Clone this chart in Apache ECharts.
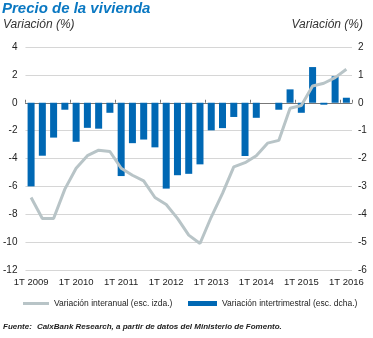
<!DOCTYPE html>
<html><head><meta charset="utf-8">
<script src="https://cdn.jsdelivr.net/npm/echarts@6/dist/echarts.min.js"></script>
<style>html,body{margin:0;padding:0;background:#fff}#c{width:373px;height:338px}</style>
</head><body><div id="c"></div>
<script>
const years = ['2009','2010','2011','2012','2013','2014','2015','2016'];
const categories = [];
years.forEach(y => { ['1T','2T','3T','4T'].forEach(q => { if (!(y === '2016' && q !== '1T')) categories.push(q + ' ' + y); }); });
// Variación interanual (esc. izda.)
const interanual = [-6.8,-8.3,-8.3,-6.2,-4.7,-3.8,-3.4,-3.5,-4.7,-5.2,-5.6,-6.8,-7.3,-8.3,-9.5,-10.1,-8.2,-6.5,-4.6,-4.3,-3.8,-2.9,-2.7,-0.4,-0.2,1.2,1.4,1.8,2.4];
// Variación intertrimestral (esc. dcha.)
const intertrimestral = [-3.0,-1.9,-1.25,-0.25,-1.4,-0.9,-0.93,-0.36,-2.63,-1.45,-1.32,-1.6,-3.08,-2.6,-2.55,-2.21,-0.99,-0.91,-0.51,-1.91,-0.54,0.0,-0.25,0.48,-0.36,1.28,-0.07,0.95,0.18];
const leftTicks = {min:-12, max:4, interval:2};
const rightTicks = {min:-6, max:2, interval:1};

const FONT = "'Liberation Sans',Arial,sans-serif";
const chart = echarts.init(document.getElementById('c'), null, {renderer:'canvas'});
chart.setOption({
  animation:false,
  textStyle:{fontFamily:FONT},
  title:[
    {text:'Precio de la vivienda', left:2, top:1, padding:0,
     textStyle:{fontFamily:FONT, fontSize:15, fontWeight:'bold', fontStyle:'italic', color:'#0a78c2'}},
    {text:'Variación (%)', left:3, top:19, padding:0,
     textStyle:{fontFamily:FONT, fontSize:12, fontWeight:'normal', fontStyle:'italic', color:'#333'}},
    {text:'Variación (%)', right:10, top:19, padding:0,
     textStyle:{fontFamily:FONT, fontSize:12, fontWeight:'normal', fontStyle:'italic', color:'#333'}},
    {text:'{b|Fuente:} {n|CaixBank Research, a partir de datos del Ministerio de Fomento.}', left:3, top:318, padding:0,
     textStyle:{rich:{b:{fontFamily:FONT,fontSize:8,fontWeight:'bold',fontStyle:'italic',color:'#222'},
                      n:{fontFamily:FONT,fontSize:8,fontStyle:'italic',color:'#222'}}}}
  ],
  legend:[
    {data:['Variación interanual (esc. izda.)'], left:23, top:299, padding:0, itemWidth:26, itemHeight:3, icon:'rect',
     itemGap:4, textStyle:{fontFamily:FONT, fontSize:8.5, color:'#222'}},
    {data:['Variación intertrimestral (esc. dcha.)'], left:188, top:299, padding:0, itemWidth:29, itemHeight:5, icon:'rect',
     textStyle:{fontFamily:FONT, fontSize:8.5, color:'#222'}}
  ],
  grid:{left:23, right:21, top:47, bottom:68},
  xAxis:[
    {type:'category', data:categories, position:'bottom', boundaryGap:true,
     axisLine:{show:false}, axisTick:{show:false},
     axisLabel:{interval:3, color:'#222', fontSize:9.5, margin:7, fontFamily:FONT}},
    {type:'category', data:categories, position:'bottom', boundaryGap:true,
     axisLine:{show:true, onZero:true, lineStyle:{color:'#777', width:1}},
     axisTick:{show:true, inside:true, length:3, interval:3, lineStyle:{color:'#777'}},
     axisLabel:{show:false}}
  ],
  yAxis:[
    {type:'value', min:leftTicks.min, max:leftTicks.max, interval:leftTicks.interval,
     axisLine:{show:false}, axisTick:{show:false},
     splitLine:{lineStyle:{color:'#d6d6d6', width:1}},
     axisLabel:{color:'#222', fontSize:10, margin:8, fontFamily:FONT}},
    {type:'value', min:rightTicks.min, max:rightTicks.max, interval:rightTicks.interval,
     axisLine:{show:false}, axisTick:{show:false}, splitLine:{show:false},
     axisLabel:{color:'#222', fontSize:10, margin:6, fontFamily:FONT}}
  ],
  series:[
    {name:'Variación intertrimestral (esc. dcha.)', type:'bar', xAxisIndex:0, yAxisIndex:1,
     data:intertrimestral, barWidth:7, itemStyle:{color:'#0068b4'}, z:2},
    {name:'Variación interanual (esc. izda.)', type:'line', xAxisIndex:0, yAxisIndex:0,
     data:interanual, showSymbol:false, symbol:'none',
     lineStyle:{color:'#b8c4c7', width:3}, itemStyle:{color:'#b8c4c7'}, z:3}
  ]
});
</script></body></html>
